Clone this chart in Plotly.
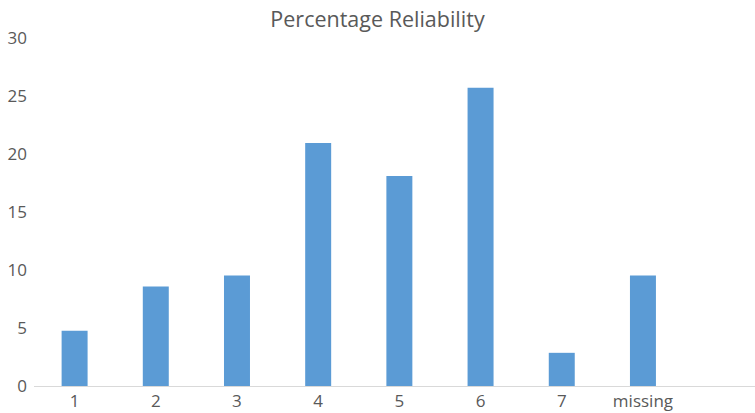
import plotly.graph_objects as go

# Share of respondents per reliability rating (percent)
categories = ["1", "2", "3", "4", "5", "6", "7", "missing"]
percentages = [4.76, 8.57, 9.52, 20.95, 18.10, 25.71, 2.86, 9.52]
y_ticks = [0, 5, 10, 15, 20, 25, 30]

BAR_COLOR = "#5B9BD5"
TEXT_COLOR = "#595959"
FONT = "Open Sans, Liberation Sans, sans-serif"

fig = go.Figure(
    go.Bar(
        x=categories,
        y=percentages,
        width=0.32,
        marker=dict(color=BAR_COLOR, line=dict(width=0)),
        hovertemplate="%{x}: %{y:.1f}%<extra></extra>",
    )
)

fig.update_layout(
    width=755,
    height=413,
    margin=dict(l=34, r=0, t=38, b=27),
    plot_bgcolor="white",
    paper_bgcolor="white",
    showlegend=False,
    font=dict(family=FONT, color=TEXT_COLOR, size=17),
    title=dict(
        text="Percentage Reliability",
        x=0.5,
        xanchor="center",
        y=0.952,
        yanchor="middle",
        font=dict(family=FONT, size=21.5, color=TEXT_COLOR),
    ),
    xaxis=dict(
        type="category",
        range=[-0.5, 8.38],
        showgrid=False,
        showline=True,
        linecolor="#D9D9D9",
        linewidth=1,
        ticks="",
        tickfont=dict(size=17, color=TEXT_COLOR),
        fixedrange=True,
    ),
    yaxis=dict(
        range=[0, 30],
        tickvals=y_ticks,
        showgrid=False,
        zeroline=False,
        showline=False,
        ticks="",
        ticklabelstandoff=6,
        tickfont=dict(size=17, color=TEXT_COLOR),
        fixedrange=True,
    ),
)

fig.write_html("out.html")
